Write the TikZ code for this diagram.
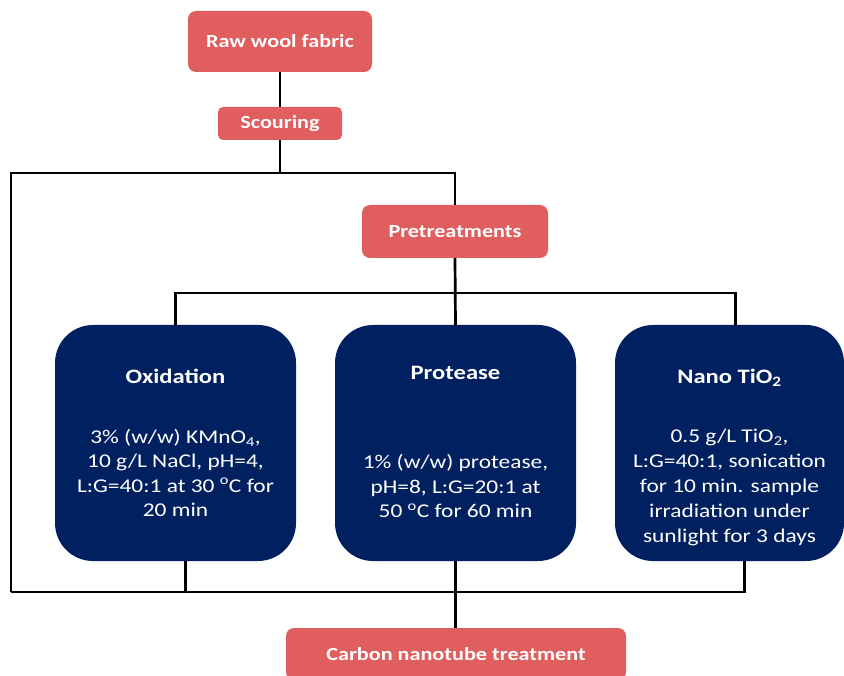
\documentclass[tikz,border=0pt]{standalone}
\usepackage{fontspec}
\setmainfont[FakeStretch=1.2]{Carlito}
\usepackage{xcolor}
\usetikzlibrary{positioning}
\definecolor{stepred}{RGB}{224,94,94}
\definecolor{navyblue}{RGB}{0,32,96}
\tikzset{
  stepnode/.style    = {shape=rectangle, rounded corners=8pt, fill=stepred,
          text=white, inner sep=0pt, font=\bfseries\fontsize{18.5}{22}\selectfont},
  methodbox/.style   = {shape=rectangle, rounded corners=38pt, fill=navyblue,
          minimum width=241pt, minimum height=236pt, inner sep=0pt},
  methodtitle/.style = {text=white, font=\bfseries\fontsize{20.5}{24}\selectfont},
  methodtext/.style  = {text=white, align=center, font=\fontsize{19.5}{24.5}\selectfont},
  wire/.style        = {draw, line width=2.7pt}
}

\begin{document}
\begin{tikzpicture}[x=1pt, y=-1pt]
  \useasboundingbox (0,0) rectangle (844,676);
  \node [stepnode, minimum width=184pt, minimum height=61pt] (raw) at (280,41.5) {Raw wool fabric};
  \node [stepnode, minimum width=124pt, minimum height=33pt, rounded corners=5pt] (scour) at (280,123.5) {Scouring};
  \node [stepnode, minimum width=186pt, minimum height=53pt] (pre) at (455,231.5) {Pretreatments};
  \node [stepnode, minimum width=340pt, minimum height=52pt] (cnt) at (456,654) {Carbon nanotube treatment};

  \node [methodbox] (oxi) at (175.5,443) {};
  \node [methodbox] (prot) at (455.5,443) {};
  \node [methodbox, minimum width=229pt] (nano) at (729.5,443) {};

  \node [methodtitle] (oxititle) at (175.5,376) {Oxidation};
  \node [methodtext] (oxitext) at (175.5,473) {3\% (w/w) KMnO\textsubscript{4},\\10 g/L NaCl, pH=4,\\L:G=40:1 at 30 \textsuperscript{o}C for\\20 min};
  \node [methodtitle] (prottitle) at (455.5,373) {Protease};
  \node [methodtext] (prottext) at (455.5,486) {1\% (w/w) protease,\\pH=8, L:G=20:1 at\\50 \textsuperscript{o}C for 60 min};
  \node [methodtitle] (nanotitle) at (729.5,378) {Nano TiO\textsubscript{2}};
  \node [methodtext, font=\fontsize{19.5}{25.2}\selectfont] (nanotext) at (729.5,487.5) {0.5 g/L TiO\textsubscript{2},\\L:G=40:1, sonication\\for 10 min. sample\\irradiation under\\sunlight for 3 days};

  \coordinate (tl) at (11,173);
  \coordinate (bl) at (11,592);
  \coordinate (midbar) at (455,293);

  \draw [wire] (raw) -- (scour);
  \draw [wire] (scour.south) -- (scour.south |- tl);
  \draw [wire] (bl) -- (tl) -| (pre.north);
  \draw [wire] (pre.south) -- (prot.north);
  \draw [wire] (oxi.north) -- (oxi.north |- midbar) -| ([xshift=6pt]nano.north);
  \draw [wire] (bl) -| ([xshift=15pt]nano.south);
  \draw [wire] ([xshift=10pt]oxi.south) -- ([xshift=10pt]oxi.south |- bl);
  \draw [wire] (prot.south) -- (prot.south |- cnt.north);
\end{tikzpicture}
\end{document}
